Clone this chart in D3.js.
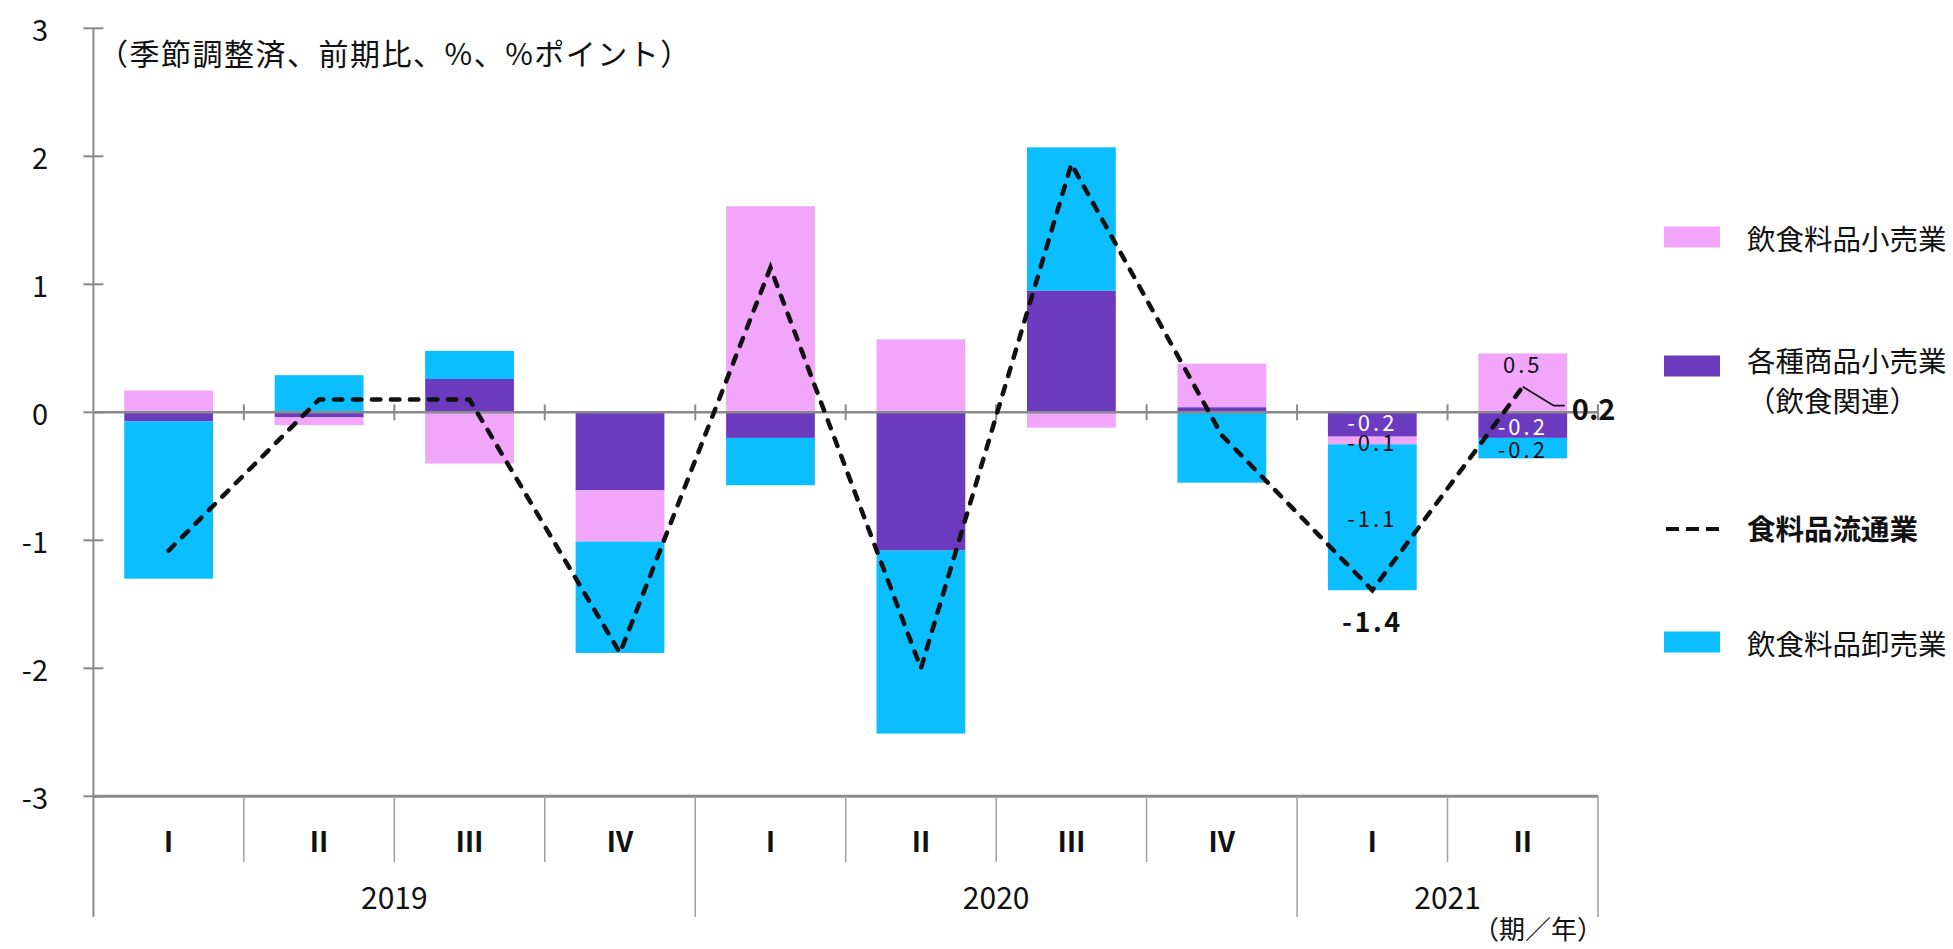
<!DOCTYPE html>
<html>
<head>
<meta charset="utf-8">
<script src="https://cdn.jsdelivr.net/npm/d3@7"></script>
<style>
  body { margin: 0; background: #fff; }
  text { font-family: "Noto Sans CJK JP", "Noto Sans", sans-serif; }
</style>
</head>
<body>
<svg id="chart" width="1953" height="949"></svg>
<script>
// Quarters (x categories) and the year each belongs to
const quarters = ["Ⅰ", "Ⅱ", "Ⅲ", "Ⅳ", "Ⅰ", "Ⅱ", "Ⅲ", "Ⅳ", "Ⅰ", "Ⅱ"];
const yearOfQuarter = ["2019", "2019", "2019", "2019", "2020", "2020", "2020", "2020", "2021", "2021"];
const yearLabels = ["2019", "2020", "2021"];

// Contributions (% points, q/q, seasonally adjusted)
const foodRetail = [0.17, -0.06, -0.40, -0.40, 1.61, 0.57, -0.12, 0.34, -0.06, 0.46];      // 飲食料品小売業
const generalRetail = [-0.07, -0.04, 0.26, -0.61, -0.20, -1.08, 0.95, 0.04, -0.19, -0.20]; // 各種商品小売業（飲食関連）
const foodWholesale = [-1.23, 0.29, 0.22, -0.87, -0.37, -1.43, 1.12, -0.55, -1.14, -0.16]; // 飲食料品卸売業
// Total (%)
const foodDistribution = [-1.08, 0.10, 0.10, -1.88, 1.13, -2.00, 1.94, -0.18, -1.39, 0.20]; // 食料品流通業

const yTicks = [-3, -2, -1, 0, 1, 2, 3];

const seriesNames = {
  foodRetail: "飲食料品小売業",
  generalRetail: ["各種商品小売業", "（飲食関連）"],
  foodDistribution: "食料品流通業",
  foodWholesale: "飲食料品卸売業"
};
const colors = { foodRetail: "#F1A6FB", generalRetail: "#6C3ABF", foodWholesale: "#0ABEFF" };

// ---- layout ----
const svg = d3.select("#chart");
const plotLeft = 93.4, plotRight = 1598, plotTop = 28.3, plotBottom = 796.3;
const n = quarters.length;
const step = (plotRight - plotLeft) / n;

const x = d3.scaleBand().domain(d3.range(n)).range([plotLeft, plotRight]).paddingInner(0.41).paddingOuter(0.205);
const y = d3.scaleLinear().domain([-3, 3]).range([plotBottom, plotTop]);
const cx = i => x(i) + x.bandwidth() / 2;

// ---- stacked bars (diverging; 各種商品 nearest zero, then 小売, then 卸売) ----
const rows = d3.range(n).map(i => ({
  generalRetail: generalRetail[i], foodRetail: foodRetail[i], foodWholesale: foodWholesale[i]
}));
const keys = ["generalRetail", "foodRetail", "foodWholesale"];
const stacked = d3.stack().keys(keys).offset(d3.stackOffsetDiverging)(rows);

svg.append("g").selectAll("g").data(stacked).join("g")
  .attr("fill", d => colors[d.key])
  .selectAll("rect").data(d => d.map((s, i) => ({ s, i }))).join("rect")
  .attr("x", d => x(d.i))
  .attr("width", x.bandwidth())
  .attr("y", d => y(Math.max(d.s[0], d.s[1])))
  .attr("height", d => Math.abs(y(d.s[0]) - y(d.s[1])));

// ---- axes ----
const axisColor = "#8a8a8a";
const g = svg.append("g");

// vertical axis (continues down through the category label area)
g.append("line").attr("x1", plotLeft).attr("x2", plotLeft).attr("y1", plotTop).attr("y2", 917)
  .attr("stroke", axisColor).attr("stroke-width", 2);
g.selectAll(".ytick").data(yTicks).join("line")
  .attr("x1", plotLeft - 10).attr("x2", plotLeft + 10)
  .attr("y1", d => y(d)).attr("y2", d => y(d))
  .attr("stroke", axisColor).attr("stroke-width", 2);
g.selectAll(".ylab").data(yTicks).join("text")
  .attr("x", 48).attr("y", d => y(d))
  .attr("text-anchor", "end").attr("dominant-baseline", "central")
  .attr("font-size", 29).attr("fill", "#111")
  .text(d => (d < 0 ? "-" : "") + Math.abs(d));

// zero line with category ticks
g.append("line").attr("x1", plotLeft).attr("x2", plotRight).attr("y1", y(0)).attr("y2", y(0))
  .attr("stroke", axisColor).attr("stroke-width", 2.5);
g.selectAll(".ztick").data(d3.range(1, n + 1)).join("line")
  .attr("x1", i => plotLeft + i * step).attr("x2", i => plotLeft + i * step)
  .attr("y1", y(0) - 8).attr("y2", y(0) + 8)
  .attr("stroke", axisColor).attr("stroke-width", 2);

// category axis at the bottom
g.append("line").attr("x1", plotLeft).attr("x2", plotRight).attr("y1", plotBottom).attr("y2", plotBottom)
  .attr("stroke", axisColor).attr("stroke-width", 3);
const yearBreaks = d3.range(1, n + 1).filter(i => i === n || yearOfQuarter[i] !== yearOfQuarter[i - 1]);
g.selectAll(".sep").data(d3.range(1, n + 1)).join("line")
  .attr("x1", i => plotLeft + i * step).attr("x2", i => plotLeft + i * step)
  .attr("y1", plotBottom).attr("y2", i => yearBreaks.includes(i) ? 917 : 862)
  .attr("stroke", "#a0a0a0").attr("stroke-width", 1.5);

g.selectAll(".qlab").data(quarters).join("text")
  .attr("x", (d, i) => cx(i)).attr("y", 840)
  .attr("text-anchor", "middle").attr("dominant-baseline", "central")
  .attr("font-size", 28).attr("font-weight", "bold").attr("fill", "#111")
  .attr("font-family", "'Liberation Serif', 'DejaVu Serif', serif")
  .text(d => d);

const yearSpans = yearLabels.map(yr => {
  const idx = d3.range(n).filter(i => yearOfQuarter[i] === yr);
  return { yr, x0: plotLeft + idx[0] * step, x1: plotLeft + (idx[idx.length - 1] + 1) * step };
});
g.selectAll(".ylab2").data(yearSpans).join("text")
  .attr("x", d => (d.x0 + d.x1) / 2).attr("y", 896)
  .attr("text-anchor", "middle").attr("dominant-baseline", "central")
  .attr("font-size", 30).attr("fill", "#111")
  .text(d => d.yr);

g.append("text").attr("x", 1603).attr("y", 927)
  .attr("text-anchor", "end").attr("dominant-baseline", "central")
  .attr("font-size", 26).attr("fill", "#111").text("（期／年）");

// unit caption
svg.append("text").attr("x", 98).attr("y", 52)
  .attr("dominant-baseline", "central").attr("font-size", 30).attr("letter-spacing", 1.5).attr("fill", "#111")
  .text("（季節調整済、前期比、%、%ポイント）");

// ---- total line ----
const dash = { "stroke": "#111", "stroke-width": 4.5, "stroke-dasharray": "8.5 10.5", "stroke-linecap": "round", "fill": "none" };
const linePath = svg.append("path")
  .datum(foodDistribution)
  .attr("d", d3.line().x((d, i) => cx(i)).y(d => y(d)));
Object.entries(dash).forEach(([k, v]) => linePath.attr(k, v));

// ---- value labels for the latest two quarters ----
const fmt = v => (v < 0 ? "-" : "") + Math.abs(v).toFixed(1);
const segCenter = (key, i) => {
  const s = stacked.find(d => d.key === key)[i];
  return y((s[0] + s[1]) / 2);
};
const segLabels = [
  { key: "generalRetail", i: 8, fill: "#fff", dy: -3 },
  { key: "foodRetail", i: 8, fill: "#111", dy: 1 },
  { key: "foodWholesale", i: 8, fill: "#111", dy: 0 },
  { key: "foodRetail", i: 9, fill: "#111", dy: -20 },
  { key: "generalRetail", i: 9, fill: "#fff", dy: 0 },
  { key: "foodWholesale", i: 9, fill: "#111", dy: 0 }
];
const series = { foodRetail, generalRetail, foodWholesale };
svg.append("g").selectAll("text").data(segLabels).join("text")
  .attr("x", d => cx(d.i)).attr("y", d => segCenter(d.key, d.i) + d.dy)
  .attr("text-anchor", "middle").attr("dominant-baseline", "central")
  .attr("font-size", 22).attr("letter-spacing", 3).attr("fill", d => d.fill)
  .text(d => fmt(series[d.key][d.i]));

// total for 2021 Q1, below the point
svg.append("text").attr("x", cx(8)).attr("y", y(foodDistribution[8]) + 30)
  .attr("text-anchor", "middle").attr("dominant-baseline", "central")
  .attr("font-size", 27).attr("font-weight", "bold").attr("letter-spacing", 2.5).attr("fill", "#111")
  .text(fmt(foodDistribution[8]));

// total for 2021 Q2 with a leader line
const px = cx(9), py = y(foodDistribution[9]);
svg.append("polyline")
  .attr("points", [[px, py], [px + 31, py + 19], [px + 42, py + 19]].map(p => p.join(",")).join(" "))
  .attr("fill", "none").attr("stroke", "#111").attr("stroke-width", 1.8);
svg.append("text").attr("x", px + 49).attr("y", py + 20)
  .attr("dominant-baseline", "central")
  .attr("font-size", 29).attr("font-weight", "bold").attr("fill", "#111")
  .text(fmt(foodDistribution[9]));

// ---- legend ----
const leg = svg.append("g");
const swX = 1664, swW = 56, txX = 1747;
const legendItems = [
  { type: "rect", key: "foodRetail", cy: 237 },
  { type: "rect", key: "generalRetail", cy: 366 },
  { type: "line", key: "foodDistribution", cy: 527 },
  { type: "rect", key: "foodWholesale", cy: 642 }
];
legendItems.forEach(it => {
  if (it.type === "rect") {
    leg.append("rect").attr("x", swX).attr("y", it.cy - 10.5).attr("width", swW).attr("height", 21)
      .attr("fill", colors[it.key]);
  } else {
    const l = leg.append("line").attr("x1", swX + 2).attr("x2", swX + swW).attr("y1", it.cy + 2).attr("y2", it.cy + 2);
    Object.entries(dash).forEach(([k, v]) => l.attr(k, v));
    l.attr("stroke-width", 4).attr("stroke-linecap", "butt").attr("stroke-dasharray", "13 7");
  }
  const name = seriesNames[it.key];
  const lines = Array.isArray(name) ? name : [name];
  lines.forEach((t, j) => {
    leg.append("text").attr("x", txX).attr("y", it.cy - (lines.length > 1 ? 7 : 0) + j * 40)
      .attr("dominant-baseline", "central").attr("font-size", 28.5)
      .attr("font-weight", it.type === "line" ? "bold" : "normal")
      .attr("fill", "#111").text(t);
  });
});
</script>
</body>
</html>
